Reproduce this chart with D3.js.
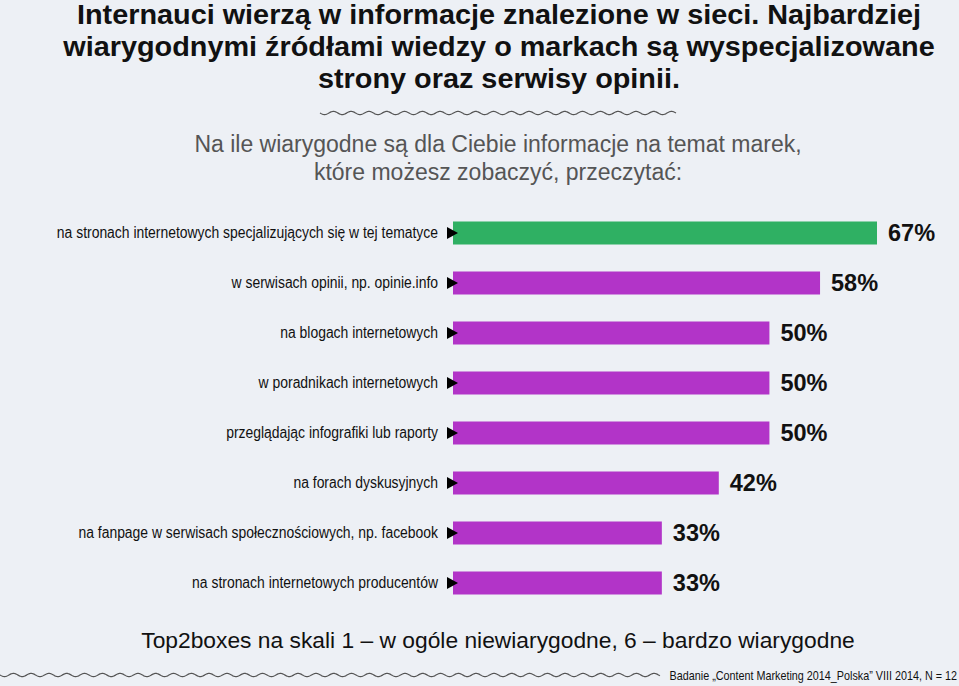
<!DOCTYPE html>
<html><head><meta charset="utf-8">
<script src="https://cdn.jsdelivr.net/npm/d3@7"></script>
<style>
body{margin:0;background:#edf0f5;}
svg{display:block;}
text{font-family:"Liberation Sans",Arial,Helvetica,sans-serif;}
</style></head>
<body><svg id="c" width="959" height="686"></svg>
<script>
const categories = [
  "na stronach internetowych specjalizujących się w tej tematyce",
  "w serwisach opinii, np. opinie.info",
  "na blogach internetowych",
  "w poradnikach internetowych",
  "przeglądając infografiki lub raporty",
  "na forach dyskusyjnych",
  "na fanpage w serwisach społecznościowych, np. facebook",
  "na stronach internetowych producentów"
];
const values = [67, 58, 50, 50, 50, 42, 33, 33];
const highlight = [true, false, false, false, false, false, false, false];
const titleLines = [
  "Internauci wierzą w informacje znalezione w sieci. Najbardziej",
  "wiarygodnymi źródłami wiedzy o markach są wyspecjalizowane",
  "strony oraz serwisy opinii."
];
const subtitleLines = [
  "Na ile wiarygodne są dla Ciebie informacje na temat marek,",
  "które możesz zobaczyć, przeczytać:"
];
const footnote = "Top2boxes na skali 1 – w ogóle niewiarygodne, 6 – bardzo wiarygodne";
const source = "Badanie „Content Marketing 2014_Polska” VIII 2014, N = 12";

const svg = d3.select("#c");
const x = d3.scaleLinear().domain([0, 67]).range([453, 877]);
const y = d3.scaleBand().domain(categories).range([208, 608]).paddingInner(0.54).paddingOuter(0.27);

// horizontally scaled text helper (scale around anchor)
function cond(sel, sx, xAcc){
  sel.attr("transform", `scale(${sx},1)`).attr("x", (d,i)=>xAcc(d,i)/sx);
  return sel;
}

// title
cond(svg.append("g").selectAll("text").data(titleLines).join("text")
  .attr("y",(d,i)=>24+i*32)
  .attr("text-anchor","middle").attr("font-size",28).attr("font-weight","bold").attr("fill","#111")
  .text(d=>d), 1.03, ()=>499);

// wavy lines
function wave(x0,x1,yc,period,amp){
  const pts=[];
  for(let xx=x0;xx<=x1;xx+=0.5){pts.push([xx,yc+amp*Math.sin((xx-x0)/period*2*Math.PI)]);}
  return d3.line()(pts);
}
svg.append("path").attr("d",wave(320,676,113,17.8,1.6)).attr("fill","none").attr("stroke","#555").attr("stroke-width",1.2);
svg.append("path").attr("d",wave(0,660,675,17.8,1.6)).attr("fill","none").attr("stroke","#555").attr("stroke-width",1.2);

// subtitle
svg.append("g").selectAll("text").data(subtitleLines).join("text")
  .attr("x",498).attr("y",(d,i)=>152+i*28)
  .attr("text-anchor","middle").attr("font-size",23).attr("fill","#555")
  .text(d=>d);

// bars
const g = svg.append("g");
g.selectAll("rect").data(values).join("rect")
  .attr("x",x(0)).attr("y",(d,i)=>y(categories[i]))
  .attr("width",d=>x(d)-x(0)).attr("height",y.bandwidth())
  .attr("fill",(d,i)=>highlight[i]?"#2fb063":"#b234c8");

g.selectAll("path.arr").data(categories).join("path").attr("class","arr")
  .attr("d",d=>{const c=y(d)+y.bandwidth()/2;return `M447,${c-6}L458,${c}L447,${c+6}Z`;})
  .attr("fill","#000");

cond(g.selectAll("text.lab").data(categories).join("text").attr("class","lab")
  .attr("y",d=>y(d)+y.bandwidth()/2).attr("dy","0.3em")
  .attr("text-anchor","end").attr("font-size",16).attr("fill","#111").text(d=>d), 0.87, ()=>438);

cond(g.selectAll("text.val").data(values).join("text").attr("class","val")
  .attr("y",(d,i)=>y(categories[i])+y.bandwidth()/2).attr("dy","0.34em")
  .attr("font-size",24.5).attr("font-weight","bold").attr("fill","#111").text(d=>d+"%"), 0.96, d=>x(d)+11);

svg.append("text").attr("x",498).attr("y",648).attr("text-anchor","middle")
  .attr("font-size",22.8).attr("fill","#111").text(footnote);
cond(svg.append("text").datum(source).attr("y",680).attr("text-anchor","end")
  .attr("font-size",13).attr("fill","#111").text(d=>d), 0.83, ()=>957);
</script></body></html>
